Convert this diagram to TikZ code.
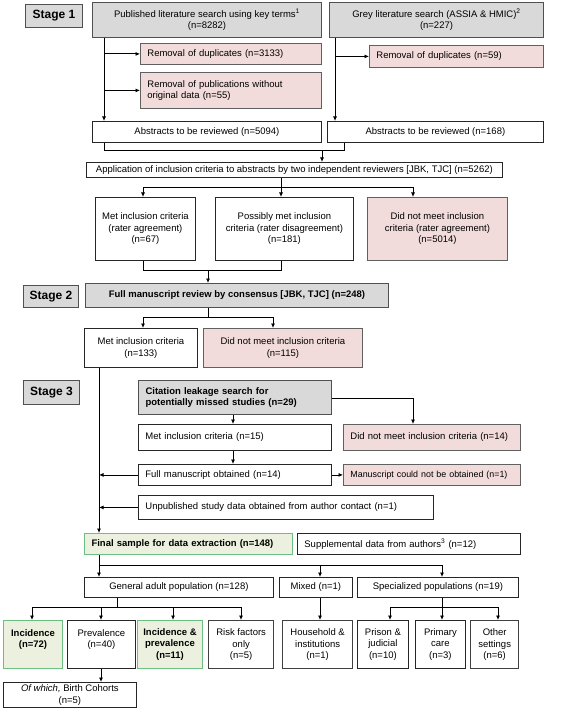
\documentclass[tikz,border=0pt]{standalone}
\usepackage{fontspec}
\setmainfont{Liberation Sans}
\usetikzlibrary{arrows.meta,calc}
\definecolor{greyfill}{HTML}{D9D9D9}
\definecolor{greyline}{HTML}{505050}
\definecolor{pinkfill}{HTML}{F2DCDB}
\definecolor{pinkline}{HTML}{606060}
\definecolor{greenfill}{HTML}{EBF1DE}
\definecolor{greenline}{HTML}{6DBE83}
\newcommand\bx[7]{%
  \pgfmathsetmacro\bw{#5-#3}\pgfmathsetmacro\bh{#6-#4}%
  \node[#2,anchor=north west,minimum width=\bw pt,minimum height=\bh pt] (#1) at (#3,#4) {#7};}
\newcommand\lbx[7]{%
  \pgfmathsetmacro\bw{#5-#3}\pgfmathsetmacro\bh{#6-#4}\pgfmathsetmacro\tw{#5-#3-14}%
  \node[#2,anchor=north west,minimum width=\bw pt,minimum height=\bh pt,text width=\tw pt,align=left,inner xsep=7pt] (#1) at (#3,#4) {#7};}
\begin{document}
\begin{tikzpicture}[x=1pt,y=-1pt,
  base/.style={draw,line width=0.8pt,inner sep=2pt,align=center,font=\fontsize{9.5}{11.5}\selectfont},
  wbox/.style={base,fill=white,draw=black!85},
  gbox/.style={base,fill=greyfill,draw=greyline,line width=1pt},
  pbox/.style={base,fill=pinkfill,draw=pinkline},
  grbox/.style={base,fill=greenfill,draw=greenline,line width=1pt,font=\fontsize{9.5}{11.5}\selectfont\bfseries},
  tbox/.style={wbox,draw=black!75,line width=1.3pt},
  stagebox/.style={base,fill=greyfill,draw=greyline,line width=1pt,font=\fontsize{12}{14}\selectfont\bfseries},
  conn/.style={line width=0.8pt},
  arr/.style={conn,-{Latex[length=4.5pt,width=4pt]}}]
\useasboundingbox (0,0) rectangle (563,719);
\fill[white] (0,0) rectangle (563,719);
% ---------- Stage 1
\bx{s1}{stagebox}{25}{4}{82}{27}{Stage 1}
\bx{pub}{gbox}{92}{2}{321}{37}{Published literature search using key terms\textsuperscript{1}\\(n=8282)}
\bx{grey}{gbox}{329}{2}{543}{37}{Grey literature search (ASSIA \& HMIC)\textsuperscript{2}\\(n=227)}
\lbx{dup1}{pbox}{140}{43}{321}{64}{\mbox{Removal of duplicates (n=3133)}}
\lbx{nod}{pbox}{140}{72}{321}{108}{\mbox{Removal of publications without}\\original data (n=55)}
\lbx{dup2}{pbox}{369}{45}{543}{67}{\mbox{Removal of duplicates (n=59)}}
\bx{abs1}{wbox}{92}{121}{321}{142}{Abstracts to be reviewed (n=5094)}
\bx{abs2}{wbox}{327}{121}{543}{142}{Abstracts to be reviewed (n=168)}
\bx{app}{wbox}{86}{162}{502}{177}{Application of inclusion criteria to abstracts by two independent reviewers [JBK, TJC] (n=5262)}
\bx{m1}{wbox}{95}{197}{195}{260}{Met inclusion criteria\\(rater agreement)\\(n=67)}
\bx{p1}{wbox}{215}{197}{353}{260}{Possibly met inclusion\\criteria (rater disagreement)\\(n=181)}
\bx{d1}{pbox}{367}{197}{507}{260}{Did not meet inclusion\\criteria (rater agreement)\\(n=5014)}
% ---------- Stage 2
\bx{s2}{stagebox}{23}{285}{78}{307}{Stage 2}
\bx{fmr}{gbox,font=\fontsize{9.5}{11.5}\selectfont\bfseries}{85}{283}{388}{307}{Full manuscript review by consensus [JBK, TJC] (n=248)}
\bx{met2}{wbox}{84}{328}{197}{367}{Met inclusion criteria\\(n=133)}
\bx{dnm2}{pbox}{203}{328}{362}{367}{Did not meet inclusion criteria\\(n=115)}
% ---------- Stage 3
\bx{s3}{stagebox}{23}{380}{79}{404}{Stage 3}
\lbx{cit}{gbox,font=\fontsize{9.5}{11.5}\selectfont\bfseries}{138}{380}{331}{414}{\mbox{Citation leakage search for}\\\mbox{potentially missed studies (n=29)}}
\lbx{met3}{wbox}{138}{424}{331}{450}{\mbox{Met inclusion criteria (n=15)}}
\lbx{dnm3}{pbox}{343}{424}{520}{450}{\mbox{Did not meet inclusion criteria (n=14)}}
\lbx{fm3}{wbox}{138}{464}{331}{485}{\mbox{Full manuscript obtained (n=14)}}
\lbx{mco}{pbox,font=\fontsize{8.9}{10}\selectfont}{343}{464}{520}{485}{\mbox{Manuscript could not be obtained (n=1)}}
\lbx{unp}{wbox}{138}{495}{433}{519}{\mbox{Unpublished study data obtained from author contact (n=1)}}
\lbx{final}{grbox}{84}{533}{292}{554}{\mbox{Final sample for data extraction (n=148)}}
\lbx{supp}{wbox}{297}{533}{520}{554}{\mbox{Supplemental data from authors\textsuperscript{3} (n=12)}}
\bx{gen}{wbox}{84}{577}{273}{597}{General adult population (n=128)}
\bx{mix}{wbox}{279}{577}{352}{597}{Mixed (n=1)}
\bx{spec}{wbox}{357}{577}{518}{597}{Specialized populations (n=19)}
\bx{inc}{grbox}{3}{620}{62}{668}{Incidence\\(n=72)\\\mbox{}}
\bx{prev}{wbox}{67}{620}{135}{668}{Prevalence\\(n=40)\\\mbox{}}
\bx{incp}{grbox}{137}{620}{202}{668}{Incidence \&\\prevalence\\(n=11)}
\bx{risk}{tbox}{208}{620}{273}{668}{Risk factors\\only\\(n=5)}
\bx{hh}{tbox}{282}{620}{352}{668}{Household \&\\institutions\\(n=1)}
\bx{pris}{wbox}{357}{620}{408}{668}{Prison \&\\judicial\\(n=10)}
\bx{prim}{wbox}{415}{620}{465}{668}{Primary\\care\\(n=3)}
\bx{oth}{tbox}{470}{620}{518}{668}{Other\\settings\\(n=6)}
\bx{birth}{wbox}{3}{682}{136}{707}{\textit{Of which,} Birth Cohorts\\(n=5)}
% ---------- junction coordinates
\coordinate (xa) at (104,0);
\coordinate (xg) at (335,0);
\coordinate (jm) at (322,150);
\coordinate (jm2) at (344,150);
\coordinate (ja) at (281,187);
\coordinate (ja1) at (143,187);
\coordinate (ja3) at (413,187);
\coordinate (jb) at (208,270);
\coordinate (jb1) at (143,270);
\coordinate (jb2) at (281,270);
\coordinate (jc) at (208,317);
\coordinate (jc1) at (143,317);
\coordinate (jc2) at (273,317);
\coordinate (xt) at (99,0);
\coordinate (jd) at (413,398);
\coordinate (xc) at (233,0);
\coordinate (je) at (99,565);
\coordinate (je2) at (320,565);
\coordinate (je3) at (442,565);
\coordinate (jf) at (117,607);
\coordinate (jf1) at (32,607);
\coordinate (jf2) at (101,607);
\coordinate (jf3) at (173,607);
\coordinate (jf4) at (241,607);
\coordinate (jg) at (442,607);
\coordinate (jg1) at (390,607);
\coordinate (jg3) at (498,607);
% ---------- connectors stage 1
\draw[arr] (pub.south -| xa) -- (abs1.north -| xa);
\draw[arr] (xa |- dup1.west) -- (dup1.west);
\draw[arr] (xa |- nod.west) -- (nod.west);
\draw[arr] (grey.south -| xg) -- (abs2.north -| xg);
\draw[arr] (xg |- dup2.west) -- (dup2.west);
\draw[conn] (abs1.south -| xa) -- (xa |- jm) -- (jm2) -- (abs2.south -| jm2);
\draw[arr] (jm) -- (app.north -| jm);
\draw[conn] (app.south -| ja) -- (ja);
\draw[conn] (ja1) -- (ja3);
\draw[arr] (ja1) -- (m1.north -| ja1);
\draw[arr] (ja) -- (p1.north -| ja);
\draw[arr] (ja3) -- (d1.north -| ja3);
\draw[conn] (m1.south -| jb1) -- (jb1) -- (jb2) -- (p1.south -| jb2);
\draw[arr] (jb) -- (fmr.north -| jb);
% ---------- stage 2
\draw[conn] (fmr.south -| jc) -- (jc);
\draw[conn] (jc1) -- (jc2);
\draw[arr] (jc1) -- (met2.north -| jc1);
\draw[arr] (jc2) -- (dnm2.north -| jc2);
\draw[arr] (met2.south -| xt) -- (final.north -| xt);
% ---------- stage 3
\draw[arr] (cit.east |- jd) -- (jd) -- (dnm3.north -| jd);
\draw[arr] (cit.south -| xc) -- (met3.north -| xc);
\draw[arr] (met3.south -| xc) -- (fm3.north -| xc);
\draw[arr] (fm3.west) -- (xt |- fm3.west);
\draw[arr] (fm3.east) -- (mco.west);
\draw[arr] (unp.west) -- (xt |- unp.west);
\draw[conn] (final.south -| je) -- (je) -- (je3);
\draw[arr] (je) -- (gen.north -| je);
\draw[arr] (je2) -- (mix.north -| je2);
\draw[arr] (je3) -- (spec.north -| je3);
\draw[conn] (gen.south -| jf) -- (jf);
\draw[conn] (jf1) -- (jf4);
\draw[arr] (jf1) -- (inc.north -| jf1);
\draw[arr] (jf2) -- (prev.north -| jf2);
\draw[arr] (jf3) -- (incp.north -| jf3);
\draw[arr] (jf4) -- (risk.north -| jf4);
\draw[arr] (mix.south -| je2) -- (hh.north -| je2);
\draw[conn] (spec.south -| jg) -- (jg);
\draw[conn] (jg1) -- (jg3);
\draw[arr] (jg1) -- (pris.north -| jg1);
\draw[arr] (jg) -- (prim.north -| jg);
\draw[arr] (jg3) -- (oth.north -| jg3);
\draw[arr] (prev.south -| jf2) -- (birth.north -| jf2);
\end{tikzpicture}
\end{document}
